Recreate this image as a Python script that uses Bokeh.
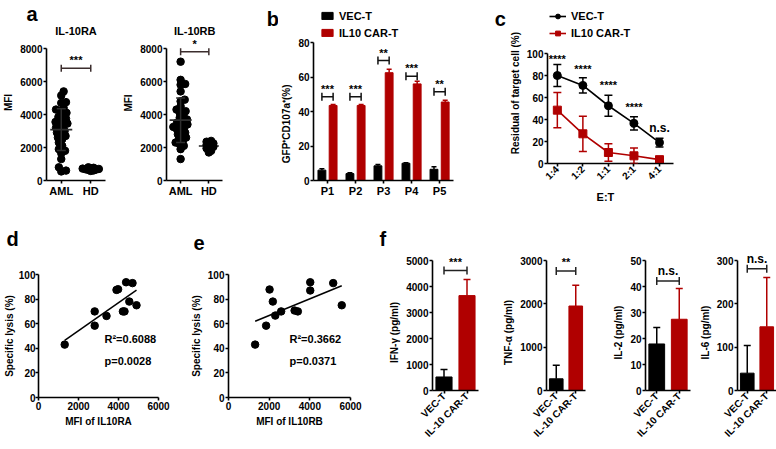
import numpy as np
from bokeh.plotting import figure
from bokeh.models import (Range1d, FixedTicker, Whisker, TeeHead, ColumnDataSource,
                          Label, Legend, LegendItem)
from bokeh.layouts import row, column
from bokeh.embed import file_html
from bokeh.resources import INLINE

FONT = "Liberation Sans"
RED = "#b00000"
BLK = "#000000"

# ---------------- data ----------------
groups_a = ["AML", "HD"]
titles_a = ["IL-10RA", "IL-10RB"]
ra_aml = [5400, 5150, 4750, 4700, 4400, 4300, 4200, 4100, 3950, 3850, 3750, 3650, 3550,
          3450, 3400, 3300, 3200, 3100, 3000, 2900, 2800, 2700, 2600, 2500, 2300, 2100,
          1900, 1800, 1650, 1300, 800, 600, 550]
ra_hd = [800, 770, 740, 720, 700, 680, 660, 640, 610, 580]
rb_aml = [7200, 6100, 5850, 5800, 5400, 4900, 4800, 4500, 4300, 4200, 4100, 3950, 3800,
          3700, 3600, 3500, 3400, 3350, 3250, 3200, 3100, 3000, 2900, 2800, 2700, 2600,
          2500, 2400, 2300, 2200, 2100, 1900, 1300]
rb_hd = [2400, 2350, 2300, 2250, 2200, 2150, 2100, 2050, 2000, 1950, 1900, 1800, 1700]
sig_a = ["***", "*"]
brk_a = [6800, 7800]
ticks_a = [0, 2000, 4000, 6000, 8000]

b_pat = ["P1", "P2", "P3", "P4", "P5"]
b_vec = [6.0, 4.0, 8.5, 10.0, 6.5]
b_vec_err = [0.8, 0.5, 0.8, 0.3, 1.5]
b_car = [43.5, 43.5, 62.5, 56.0, 45.5]
b_car_err = [0.6, 0.5, 2.0, 1.5, 1.0]
b_sig = ["***", "***", "**", "***", "**"]
b_brk = [48.5, 48.5, 69.5, 60.5, 51.5]
ticks_b = [0, 20, 40, 60, 80]

c_et = ["1:4", "1:2", "1:1", "2:1", "4:1"]
c_vec = [80, 71, 52.5, 36.5, 19]
c_vec_err = [10, 7, 9.5, 6, 4]
c_car = [48.5, 27, 10, 7, 3.5]
c_car_err = [16, 16, 8, 7, 2]
c_sig = ["****", "****", "****", "****", "n.s."]
c_sig_y = [95, 86, 71, 51, 32]
ticks_c = [0, 20, 40, 60, 80, 100]

d_x = [1310, 2810, 2810, 3400, 3900, 3980, 4380, 4700, 4220, 4300, 4540, 4900]
d_y = [43, 70, 58.4, 66.3, 87.5, 88, 93.7, 93, 70, 70, 78, 75]
d_stats = ["R²=0.6088", "p=0.0028"]

e_x = [1310, 1850, 2020, 2180, 2300, 2590, 3250, 3410, 4020, 4020, 5150, 5570]
e_y = [43, 58.4, 87.8, 78, 66.6, 70, 70.7, 70, 93.7, 87, 93, 75]
e_stats = ["R²=0.3662", "p=0.0371"]
ticks_de_x = [0, 2000, 4000, 6000]
ticks_de_y = [0, 20, 40, 60, 80, 100]

f_groups = ["VEC-T", "IL-10 CAR-T"]
f_names = ["IFN-γ (pg/ml)", "TNF-α (pg/ml)", "IL-2 (pg/ml)", "IL-6 (pg/ml)"]
f_mean = [[520, 3650], [270, 1950], [17.9, 27.4], [40, 147]]
f_err = [[290, 620], [310, 480], [6.3, 11.8], [64, 114]]
f_ymax = [5000, 3000, 50, 300]
f_ticks = [[0, 1000, 2000, 3000, 4000, 5000], [0, 1000, 2000, 3000],
           [0, 10, 20, 30, 40, 50], [0, 100, 200, 300]]
f_sig = ["***", "**", "n.s.", "n.s."]
f_brk = [4615, 2760, 42.1, 281]

NBSP = "\u00a0"


# ---------------- helpers ----------------
def pad(txt, shift_px, font_px=10):
    """shift a centred axis label by shift_px towards its start using non-breaking spaces"""
    n = int(round(2 * shift_px / (0.278 * font_px)))
    return txt + NBSP * n


def fig(w, h, l, r, t, b, xr, yr):
    p = figure(width=w, height=h, x_range=xr, y_range=yr, output_backend="svg",
               toolbar_location=None, min_border_left=l, min_border_right=r,
               min_border_top=t, min_border_bottom=b, frame_align=False)
    p.outline_line_color = None
    p.xgrid.visible = False
    p.ygrid.visible = False
    for ax in (p.xaxis[0], p.yaxis[0]):
        ax.axis_line_width = 1.6
        ax.axis_line_color = BLK
        ax.major_tick_line_width = 1.6
        ax.major_tick_line_color = BLK
        ax.major_tick_out = 3
        ax.major_tick_in = 0
        ax.minor_tick_line_color = None
        ax.major_label_text_font = FONT
        ax.major_label_text_font_style = "bold"
        ax.major_label_text_font_size = "10px"
        ax.major_label_text_color = BLK
        ax.axis_label_text_font = FONT
        ax.axis_label_text_font_style = "bold"
        ax.axis_label_text_font_size = "10px"
        ax.axis_label_text_color = BLK
        ax.major_label_standoff = 1
        ax.axis_label_standoff = 3
    return p


def ext(v0, v1, a0, a1, b1):
    """extend a data interval [v0, v1] drawn over screen [a0, a1] to screen end b1"""
    return v0 + (v1 - v0) * (b1 - a0) / (a1 - a0)


def letter_title(p, txt, offset, standoff=0):
    p.title.text = txt
    p.title.align = "left"
    p.title.offset = offset
    p.title.text_font = FONT
    p.title.text_font_style = "bold"
    p.title.text_font_size = "20px"
    p.title.text_color = BLK
    p.title.standoff = standoff


def letter_label(p, txt, x, y):
    p.add_layout(Label(x=x, y=y, text=txt, text_font=FONT, text_font_style="bold",
                       text_font_size="20px", text_baseline="alphabetic",
                       text_align="left", text_color=BLK))


def bracket(p, base, lo, hi, color="#222222", size=7):
    src = ColumnDataSource(dict(b=list(base), l=list(lo), u=list(hi)))
    p.add_layout(Whisker(source=src, base="b", lower="l", upper="u", dimension="width",
                         line_color=color, line_width=1.5, level="overlay",
                         lower_head=TeeHead(size=size, line_color=color, line_width=1.5),
                         upper_head=TeeHead(size=size, line_color=color, line_width=1.5)))


def sig(p, x, y, txt, size="11px", yoff=3, baseline="bottom"):
    p.add_layout(Label(x=x, y=y, text=txt, y_offset=yoff, text_align="center",
                       text_baseline=baseline, text_font=FONT, text_font_style="bold",
                       text_font_size=size, text_color=BLK))


def errbar(p, x, lo, hi, color, size=6, both=False, level="overlay"):
    src = ColumnDataSource(dict(x=list(x), l=list(lo), u=list(hi)))
    p.add_layout(Whisker(source=src, base="x", lower="l", upper="u", line_color=color,
                         line_width=1.5, level=level,
                         lower_head=TeeHead(size=size, line_color=color, line_width=1.5) if both else None,
                         upper_head=TeeHead(size=size, line_color=color, line_width=1.5)))


def swarm(vals, sx, sy, d):
    vals = np.asarray(vals, float)
    ys = vals * sy
    order = np.argsort(vals)
    cands = [0.0]
    for k in range(1, 80):
        cands += [k * 0.5, -k * 0.5]
    placed = []
    out = np.zeros(len(vals))
    for i in order:
        for c in cands:
            if all((c - px) ** 2 + (ys[i] - py) ** 2 >= d * d for px, py in placed):
                placed.append((c, ys[i]))
                out[i] = c
                break
    return out / sx


# ---------------- panel a (screen: 8000 at y=48, 0 at y=180) ----------------
def panel_a(idx, aml, hd, x0, w, l, r, top, lab_shift):
    fl = x0 + l
    fr = x0 + w - r
    nom_r = fl + 62
    xmax = ext(-0.5, 1.5, fl, nom_r, fr)
    ymax = ext(0, 8000, 180, 48, top)
    p = fig(w, 218, l, r, top, 38, Range1d(-0.5, xmax), Range1d(0, ymax))
    p.yaxis.bounds = (0, 8000)
    p.xaxis.bounds = (-0.5, 1.5)
    p.yaxis.axis_label = pad("MFI", lab_shift)
    p.yaxis.ticker = FixedTicker(ticks=ticks_a)
    p.xaxis.ticker = FixedTicker(ticks=[0, 1])
    p.xaxis.major_label_overrides = {0: groups_a[0], 1: groups_a[1]}
    p.xaxis.major_label_text_font_size = "11px"
    sx = 31.0
    sy = 132 / 8000.0
    # HD statistics lie hidden beneath its dense cloud
    m_hd = float(np.mean(hd))
    s_hd = float(np.std(hd, ddof=1))
    p.scatter([1], [m_hd], marker="dash", size=20, line_color="#222222", line_width=1.6)
    errbar(p, [1], [m_hd - s_hd], [m_hd + s_hd], "#222222", size=9, both=True, level="underlay")
    for gi, (vals, dd) in enumerate([(aml, 4.6), (hd, 2.6)]):
        offs = swarm(vals, sx, sy, dd)
        p.scatter(gi + offs, vals, marker="circle", size=7.5, color=BLK)
    m = float(np.mean(aml))
    s = float(np.std(aml, ddof=1))
    p.scatter([0], [m], marker="dash", size=22, line_color="#2e2e2e", line_width=1.6)
    errbar(p, [0], [m - s], [m + s], "#2e2e2e", size=9, both=True)
    bracket(p, [brk_a[idx]], [0], [1], color="#3b2d2d")
    sig(p, 0.5, brk_a[idx], sig_a[idx], yoff=2)
    p.add_layout(Label(x=0.5, y=ext(0, 8000, 180, 48, 30), text=titles_a[idx],
                       text_align="center", text_baseline="middle", text_font=FONT,
                       text_font_style="bold", text_font_size="11px", text_color=BLK))
    return p, (fl, nom_r, fr)


pa1, _ = panel_a(0, ra_aml, ra_hd, 0, 120, 43, 15, 24, 0)
letter_title(pa1, "a", 23 - 43)
pa2, (fl2, nr2, fr2) = panel_a(1, rb_aml, rb_hd, 120, 158, 35, 0, 0, 13)
letter_label(pa2, "b", ext(-0.5, 1.5, fl2, nr2, 265), ext(0, 8000, 180, 48, 18))

# ---------------- panel b (screen: 80 at y=42, 0 at y=180) ----------------
xb = np.arange(len(b_pat))
off, bw = 0.2, 0.28
b_fl, b_nr, b_fr = 309, 452, 506
pb = fig(228, 218, 31, 0, 0, 38, Range1d(-0.5, ext(-0.5, 4.5, b_fl, b_nr, b_fr)),
         Range1d(0, ext(0, 80, 180, 42, 0)))
pb.yaxis.bounds = (0, 80)
pb.xaxis.bounds = (-0.5, 4.5)
pb.yaxis.axis_label = pad("GFP⁺CD107a⁺(%)", 33)
pb.yaxis.ticker = FixedTicker(ticks=ticks_b)
pb.xaxis.ticker = FixedTicker(ticks=list(xb))
pb.xaxis.major_label_overrides = {int(i): b_pat[i] for i in xb}
pb.xaxis.major_label_text_font_size = "11px"
rv = pb.vbar(x=xb - off, top=b_vec, width=bw, color=BLK)
rc = pb.vbar(x=xb + off, top=b_car, width=bw, color=RED)
errbar(pb, xb - off, b_vec, np.add(b_vec, b_vec_err), BLK, size=5)
errbar(pb, xb + off, b_car, np.add(b_car, b_car_err), RED, size=5)
bracket(pb, b_brk, xb - off, xb + off, color="#111111", size=8)
for i in xb:
    sig(pb, float(i), b_brk[i], b_sig[i], yoff=2)
leg_b = Legend(items=[LegendItem(label="VEC-T", renderers=[rv]),
                      LegendItem(label="IL10 CAR-T", renderers=[rc])],
               location=(7, 180 - 39), orientation="vertical")
pb.add_layout(leg_b)
letter_label(pb, "c", ext(-0.5, 4.5, b_fl, b_nr, 494), ext(0, 80, 180, 42, 18))

# ---------------- panel c (screen: 100 at y=53, 0 at y=163) ----------------
xc = np.arange(len(c_et))
c_fl, c_nr, c_fr = 543, 671, 776
pc = fig(270, 218, 37, 0, 0, 55, Range1d(-0.385, ext(-0.385, 4.54, c_fl, c_nr, c_fr)),
         Range1d(0, ext(0, 100, 163, 53, 0)))
pc.yaxis.bounds = (0, 100)
pc.xaxis.bounds = (-0.385, 4.54)
pc.yaxis.axis_label = pad("Residual of target cell (%)", 11)
pc.xaxis.axis_label = pad("E:T", 56, 11)
pc.xaxis.axis_label_text_font_size = "11px"
pc.yaxis.ticker = FixedTicker(ticks=ticks_c)
pc.xaxis.ticker = FixedTicker(ticks=list(xc))
pc.xaxis.major_label_overrides = {int(i): c_et[i] for i in xc}
pc.xaxis.major_label_orientation = np.pi / 4
l1 = pc.line(xc, c_vec, line_color=BLK, line_width=1.6)
s1 = pc.scatter(xc, c_vec, marker="circle", size=8, color=BLK)
l2 = pc.line(xc, c_car, line_color=RED, line_width=1.6)
s2 = pc.scatter(xc, c_car, marker="square", size=8, color=RED)
errbar(pc, xc, np.subtract(c_vec, c_vec_err), np.add(c_vec, c_vec_err), BLK, size=8, both=True)
errbar(pc, xc, np.subtract(c_car, c_car_err), np.add(c_car, c_car_err), RED, size=8, both=True)
for i in xc:
    sig(pc, float(i), c_sig_y[i], c_sig[i], size="12px" if c_sig[i] == "n.s." else "11px",
        yoff=0, baseline="middle")
leg_c = Legend(items=[LegendItem(label="VEC-T", renderers=[l1, s1]),
                      LegendItem(label="IL10 CAR-T", renderers=[l2, s2])],
               location=(2, 163 - 39), orientation="vertical")
pc.add_layout(leg_c)

for lg in (leg_b, leg_c):
    lg.border_line_color = None
    lg.background_fill_alpha = 0
    lg.label_text_font = FONT
    lg.label_text_font_style = "bold"
    lg.label_text_font_size = "11px"
    lg.label_text_color = BLK
    lg.padding = 0
    lg.margin = 0
    lg.spacing = 4
    lg.label_standoff = 5
    lg.label_height = 13
    lg.glyph_height = 9
leg_b.glyph_width = 14
leg_c.glyph_width = 17
leg_c.glyph_height = 12

# ---------------- bottom row (row starts at y=218) ----------------
FT = 249  # frame top of bottom-row plots (letters sit just above)


def panel_de(xs, ys, stats, xlabel, w, l, r, let, let_off, stat_x, tight=False):
    p = fig(w, 231, l, r, FT - 218, 52, Range1d(0, 6000),
            Range1d(0, ext(0, 100, 397, 274, FT)))
    p.yaxis.bounds = (0, 100)
    p.xaxis.axis_label = xlabel
    p.yaxis.axis_label = pad("Specific lysis (%)", 12)
    if tight:
        p.yaxis.major_label_standoff = 0
        p.yaxis.axis_label_standoff = 1
    p.xaxis.ticker = FixedTicker(ticks=ticks_de_x)
    p.yaxis.ticker = FixedTicker(ticks=ticks_de_y)
    p.scatter(xs, ys, marker="circle", size=7.5, color=BLK)
    k, b0 = np.polyfit(xs, ys, 1)
    xx = np.array([min(xs), max(xs)])
    p.line(xx, k * xx + b0, line_color=BLK, line_width=1.5)
    p.add_layout(Label(x=stat_x, y=47.5, text=stats[0], text_font=FONT, text_font_style="bold",
                       text_font_size="11px", text_baseline="middle", text_color=BLK))
    p.add_layout(Label(x=stat_x, y=30, text=stats[1], text_font=FONT, text_font_style="bold",
                       text_font_size="11px", text_baseline="middle", text_color=BLK))
    letter_title(p, let, let_off)
    return p


pd_ = panel_de(d_x, d_y, d_stats, "MFI of IL10RA", 185, 36, 27, "d", 4 - 36, 3300, tight=True)
pe = panel_de(e_x, e_y, e_stats, "MFI of IL10RB", 190, 43, 25, "e", 193 - 228, 3000)

f_layout = [(125, 57, 22), (105, 39, 20), (91, 40, 6), (80, 35, 0)]
pfs = []
for j in range(4):
    w, l, r = f_layout[j]
    p = fig(w, 231, l, r, FT - 218, 59, Range1d(-0.5, 1.5),
            Range1d(0, ext(0, f_ymax[j], 390, 260, FT)))
    p.yaxis.bounds = (0, f_ymax[j])
    p.yaxis.axis_label = pad(f_names[j], 13)
    p.yaxis.ticker = FixedTicker(ticks=f_ticks[j])
    p.xaxis.ticker = FixedTicker(ticks=[0, 1])
    p.xaxis.major_label_overrides = {0: f_groups[0], 1: f_groups[1]}
    p.xaxis.major_label_orientation = np.pi / 4
    p.vbar(x=[0, 1], top=f_mean[j], width=0.7, color=[BLK, RED])
    errbar(p, [0], [f_mean[j][0]], [f_mean[j][0] + f_err[j][0]], BLK, size=7)
    errbar(p, [1], [f_mean[j][1]], [f_mean[j][1] + f_err[j][1]], RED, size=7)
    bracket(p, [f_brk[j]], [0], [1], color="#222222", size=8)
    sig(p, 0.5, f_brk[j], f_sig[j], size="11px" if f_sig[j].startswith("*") else "12px", yoff=3)
    if j == 0:
        letter_title(p, "f", 379 - 432)
    pfs.append(p)

layout = column(row(pa1, pa2, pb, pc), row(pd_, pe, *pfs))
open("out.html", "w").write(file_html(layout, INLINE))
